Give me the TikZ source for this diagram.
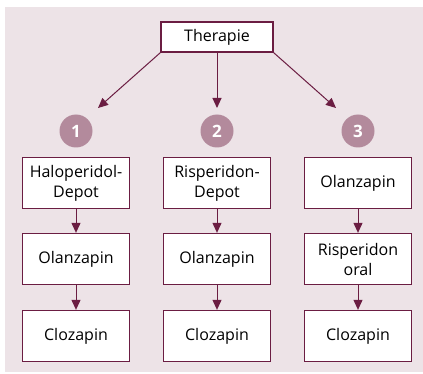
\documentclass[tikz,border=0pt]{standalone}
\usepackage{fontspec}
\setmainfont{Open Sans}
\usetikzlibrary{arrows.meta}
\definecolor{bgrose}{HTML}{EDE3E7}
\definecolor{darkwine}{HTML}{6B1D42}
\definecolor{numrose}{HTML}{B38A9C}

\begin{document}
\begin{tikzpicture}[x=1pt,y=-1pt,
    box/.style={draw=darkwine,line width=1.3pt,fill=white,minimum width=107pt,minimum height=51pt,
      align=center,inner sep=1pt,font=\fontsize{16}{20}\selectfont},
    numdot/.style={circle,fill=numrose,minimum size=33pt,inner sep=0pt,text=white,
      font=\fontsize{17}{18}\selectfont\bfseries},
    arr/.style={draw=darkwine,line width=1pt,-{Triangle[length=10pt,width=9pt]}}]
    % Background
    \useasboundingbox (0,0) rectangle (423,374);
    \fill[bgrose] (5,7) rectangle (423,372);

    % Top box
    \node[box,minimum width=112pt,minimum height=30pt] (therapie) at (217,37) {Therapie};

    % Numbers
    \node[numdot] (n1) at (76,131) {1};
    \node[numdot] (n2) at (217,131) {2};
    \node[numdot] (n3) at (358,131) {3};
    \coordinate (t1) at (98,108);
    \coordinate (t2) at (217,108);
    \coordinate (t3) at (336,108);
    \draw[arr] (therapie.south west) -- (t1);
    \draw[arr] (therapie.south) -- (t2);
    \draw[arr] (therapie.south east) -- (t3);

    % Column 1
    \node[box] (a1) at (76,183) {Haloperidol-\\Depot};
    \node[box] (a2) at (76,259) {Olanzapin};
    \node[box] (a3) at (76,336) {Clozapin};
    % Column 2
    \node[box] (b1) at (217,183) {Risperidon-\\Depot};
    \node[box] (b2) at (217,259) {Olanzapin};
    \node[box] (b3) at (217,336) {Clozapin};
    % Column 3
    \node[box] (c1) at (358,183) {Olanzapin};
    \node[box] (c2) at (358,259) {Risperidon\\oral};
    \node[box] (c3) at (358,336) {Clozapin};

    \foreach \col in {a,b,c} {
      \draw[arr] (\col1) -- (\col2);
      \draw[arr] (\col2) -- (\col3);
    }
\end{tikzpicture}
\end{document}
